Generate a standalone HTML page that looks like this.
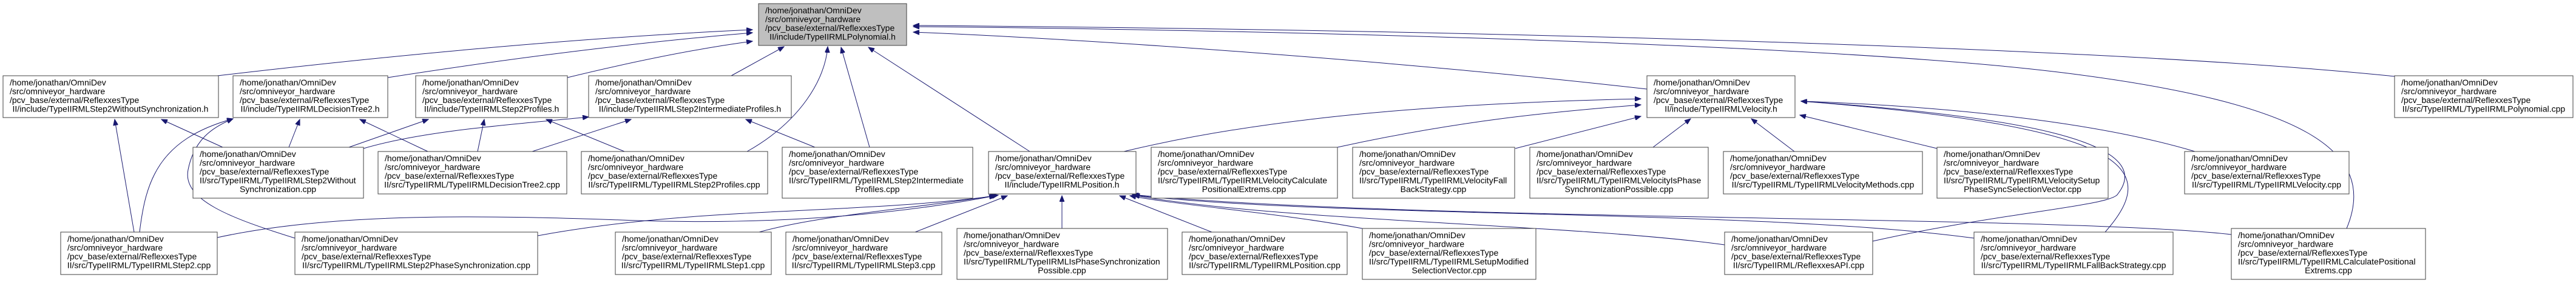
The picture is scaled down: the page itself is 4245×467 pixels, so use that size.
<!DOCTYPE html>
<html><head><meta charset="utf-8"><style>
html,body{margin:0;padding:0;background:#fff;}
svg{display:block;}
text{font-family:"Liberation Sans",sans-serif;font-size:14px;fill:#000;}
.b{fill:#fff;stroke:#404040;stroke-width:1;}
.g{fill:#bfbfbf;stroke:#404040;stroke-width:1;}
.e{fill:none;stroke:#191970;stroke-width:1;marker-end:url(#ah);}
</style></head><body>
<svg width="4245" height="467" viewBox="0 0 4245 467" xmlns="http://www.w3.org/2000/svg">
<defs><marker id="ah" markerUnits="userSpaceOnUse" markerWidth="11" markerHeight="8" refX="10" refY="4" orient="auto"><path d="M0,0 L10,4 L0,8 z" fill="#191970" stroke="#191970"/></marker></defs>

<!-- edges -->
<path class="e" d="M358,125 C700,85 1000,60 1240,49"/>
<path class="e" d="M639,128 C850,95 1050,70 1240,54"/>
<path class="e" d="M935,128 C1050,100 1150,80 1240,68"/>
<path class="e" d="M1205,125 L1292,77"/>
<path class="e" d="M1231,250 C1320,200 1360,130 1364,77"/>
<path class="e" d="M1433,243 L1386,78"/>
<path class="e" d="M1697,250 L1431,78"/>
<path class="e" d="M2714,147 C2300,100 1800,65 1505,53"/>
<path class="e" d="M3946,126 C3500,80 2500,50 1505,42"/>
<path class="e" d="M3867,377 C3920,250 3800,170 3400,120 S2000,48 1505,44"/>
<path class="e" d="M1852,250 C2100,190 2400,170 2704,163"/>
<path class="e" d="M2204,243 C2400,200 2550,185 2704,173"/>
<path class="e" d="M2497,245 L2704,192"/>
<path class="e" d="M2724,243 L2786,196"/>
<path class="e" d="M2957,250 L2886,196"/>
<path class="e" d="M3192,245 L2966,190"/>
<path class="e" d="M3617,250 C3450,200 3200,175 2968,167"/>
<path class="e" d="M3086,398 C3300,350 3480,340 3490,320 C3560,230 3300,190 2968,167"/>
<path class="e" d="M3469,383 C3560,280 3520,210 2968,167"/>
<path class="e" d="M221,383 L189,197"/>
<path class="e" d="M367,243 L266,197"/>
<path class="e" d="M230,383 C240,300 260,230 384,196"/>
<path class="e" d="M486,393 C380,360 300,330 310,280 C320,230 350,210 384,196"/>
<path class="e" d="M476,243 L494,197"/>
<path class="e" d="M705,250 L593,197"/>
<path class="e" d="M575,243 L706,197"/>
<path class="e" d="M787,250 L798,197"/>
<path class="e" d="M1029,250 L900,197"/>
<path class="e" d="M599,245 C700,215 850,205 970,193"/>
<path class="e" d="M877,250 L1040,197"/>
<path class="e" d="M1343,243 L1229,197"/>
<path class="e" d="M358,392 C550,350 800,355 1050,364 C1300,372 1500,350 1640,323"/>
<path class="e" d="M886,389 C1150,340 1400,355 1642,323"/>
<path class="e" d="M1251,383 C1350,355 1500,345 1645,322"/>
<path class="e" d="M1508,383 L1660,323"/>
<path class="e" d="M1750,377 L1750,323"/>
<path class="e" d="M1997,383 L1845,323"/>
<path class="e" d="M2245,377 C2100,350 1950,340 1862,323"/>
<path class="e" d="M2842,404 C2600,370 2100,365 1868,322"/>
<path class="e" d="M3253,393 C2900,345 2200,360 1868,322"/>
<path class="e" d="M3677,387 C3400,355 2300,365 1866,321"/>

<!-- nodes -->
<rect class="g" x="1250" y="6" width="244" height="69"/>
<text x="1261" y="22">/home/jonathan/OmniDev</text><text x="1261" y="36.5">/src/omniveyor_hardware</text><text x="1261" y="51">/pcv_base/external/ReflexxesType</text><text x="1372" y="65.5" text-anchor="middle">II/include/TypeIIRMLPolynomial.h</text>

<rect class="b" x="5" y="125" width="355" height="69"/>
<text x="16" y="141">/home/jonathan/OmniDev</text><text x="16" y="155.5">/src/omniveyor_hardware</text><text x="16" y="170">/pcv_base/external/ReflexxesType</text><text x="182" y="184.5" text-anchor="middle">II/include/TypeIIRMLStep2WithoutSynchronization.h</text>

<rect class="b" x="384" y="125" width="255" height="69"/>
<text x="395" y="141">/home/jonathan/OmniDev</text><text x="395" y="155.5">/src/omniveyor_hardware</text><text x="395" y="170">/pcv_base/external/ReflexxesType</text><text x="511" y="184.5" text-anchor="middle">II/include/TypeIIRMLDecisionTree2.h</text>

<rect class="b" x="685" y="125" width="250" height="69"/>
<text x="696" y="141">/home/jonathan/OmniDev</text><text x="696" y="155.5">/src/omniveyor_hardware</text><text x="696" y="170">/pcv_base/external/ReflexxesType</text><text x="810" y="184.5" text-anchor="middle">II/include/TypeIIRMLStep2Profiles.h</text>

<rect class="b" x="970" y="125" width="334" height="69"/>
<text x="981" y="141">/home/jonathan/OmniDev</text><text x="981" y="155.5">/src/omniveyor_hardware</text><text x="981" y="170">/pcv_base/external/ReflexxesType</text><text x="1137" y="184.5" text-anchor="middle">II/include/TypeIIRMLStep2IntermediateProfiles.h</text>

<rect class="b" x="2714" y="125" width="244" height="69"/>
<text x="2725" y="141">/home/jonathan/OmniDev</text><text x="2725" y="155.5">/src/omniveyor_hardware</text><text x="2725" y="170">/pcv_base/external/ReflexxesType</text><text x="2836" y="184.5" text-anchor="middle">II/include/TypeIIRMLVelocity.h</text>

<rect class="b" x="3946" y="125" width="294" height="69"/>
<text x="3957" y="141">/home/jonathan/OmniDev</text><text x="3957" y="155.5">/src/omniveyor_hardware</text><text x="3957" y="170">/pcv_base/external/ReflexxesType</text><text x="4093" y="184.5" text-anchor="middle">II/src/TypeIIRML/TypeIIRMLPolynomial.cpp</text>

<!-- row 2 -->
<rect class="b" x="318" y="243" width="281" height="84"/>
<text x="329" y="259">/home/jonathan/OmniDev</text><text x="329" y="273.5">/src/omniveyor_hardware</text><text x="329" y="288">/pcv_base/external/ReflexxesType</text><text x="329" y="302.5">II/src/TypeIIRML/TypeIIRMLStep2Without</text><text x="458" y="317" text-anchor="middle">Synchronization.cpp</text>

<rect class="b" x="623" y="250" width="311" height="70"/>
<text x="634" y="266">/home/jonathan/OmniDev</text><text x="634" y="280.5">/src/omniveyor_hardware</text><text x="634" y="295">/pcv_base/external/ReflexxesType</text><text x="778" y="309.5" text-anchor="middle">II/src/TypeIIRML/TypeIIRMLDecisionTree2.cpp</text>

<rect class="b" x="958" y="250" width="307" height="70"/>
<text x="969" y="266">/home/jonathan/OmniDev</text><text x="969" y="280.5">/src/omniveyor_hardware</text><text x="969" y="295">/pcv_base/external/ReflexxesType</text><text x="1111" y="309.5" text-anchor="middle">II/src/TypeIIRML/TypeIIRMLStep2Profiles.cpp</text>

<rect class="b" x="1289" y="243" width="314" height="84"/>
<text x="1300" y="259">/home/jonathan/OmniDev</text><text x="1300" y="273.5">/src/omniveyor_hardware</text><text x="1300" y="288">/pcv_base/external/ReflexxesType</text><text x="1300" y="302.5">II/src/TypeIIRML/TypeIIRMLStep2Intermediate</text><text x="1446" y="317" text-anchor="middle">Profiles.cpp</text>

<rect class="b" x="1629" y="250" width="243" height="70"/>
<text x="1640" y="266">/home/jonathan/OmniDev</text><text x="1640" y="280.5">/src/omniveyor_hardware</text><text x="1640" y="295">/pcv_base/external/ReflexxesType</text><text x="1750" y="309.5" text-anchor="middle">II/include/TypeIIRMLPosition.h</text>

<rect class="b" x="1897" y="243" width="307" height="84"/>
<text x="1908" y="259">/home/jonathan/OmniDev</text><text x="1908" y="273.5">/src/omniveyor_hardware</text><text x="1908" y="288">/pcv_base/external/ReflexxesType</text><text x="1908" y="302.5">II/src/TypeIIRML/TypeIIRMLVelocityCalculate</text><text x="2050" y="317" text-anchor="middle">PositionalExtrems.cpp</text>

<rect class="b" x="2229" y="243" width="267" height="84"/>
<text x="2240" y="259">/home/jonathan/OmniDev</text><text x="2240" y="273.5">/src/omniveyor_hardware</text><text x="2240" y="288">/pcv_base/external/ReflexxesType</text><text x="2240" y="302.5">II/src/TypeIIRML/TypeIIRMLVelocityFall</text><text x="2362" y="317" text-anchor="middle">BackStrategy.cpp</text>

<rect class="b" x="2521" y="243" width="294" height="84"/>
<text x="2532" y="259">/home/jonathan/OmniDev</text><text x="2532" y="273.5">/src/omniveyor_hardware</text><text x="2532" y="288">/pcv_base/external/ReflexxesType</text><text x="2532" y="302.5">II/src/TypeIIRML/TypeIIRMLVelocityIsPhase</text><text x="2668" y="317" text-anchor="middle">SynchronizationPossible.cpp</text>

<rect class="b" x="2840" y="250" width="328" height="70"/>
<text x="2851" y="266">/home/jonathan/OmniDev</text><text x="2851" y="280.5">/src/omniveyor_hardware</text><text x="2851" y="295">/pcv_base/external/ReflexxesType</text><text x="3004" y="309.5" text-anchor="middle">II/src/TypeIIRML/TypeIIRMLVelocityMethods.cpp</text>

<rect class="b" x="3192" y="243" width="282" height="84"/>
<text x="3203" y="259">/home/jonathan/OmniDev</text><text x="3203" y="273.5">/src/omniveyor_hardware</text><text x="3203" y="288">/pcv_base/external/ReflexxesType</text><text x="3203" y="302.5">II/src/TypeIIRML/TypeIIRMLVelocitySetup</text><text x="3333" y="317" text-anchor="middle">PhaseSyncSelectionVector.cpp</text>

<rect class="b" x="3600" y="250" width="271" height="70"/>
<text x="3611" y="266">/home/jonathan/OmniDev</text><text x="3611" y="280.5">/src/omniveyor_hardware</text><text x="3611" y="295">/pcv_base/external/ReflexxesType</text><text x="3735" y="309.5" text-anchor="middle">II/src/TypeIIRML/TypeIIRMLVelocity.cpp</text>

<!-- row 3 -->
<rect class="b" x="100" y="383" width="258" height="70"/>
<text x="111" y="399">/home/jonathan/OmniDev</text><text x="111" y="413.5">/src/omniveyor_hardware</text><text x="111" y="428">/pcv_base/external/ReflexxesType</text><text x="229" y="442.5" text-anchor="middle">II/src/TypeIIRML/TypeIIRMLStep2.cpp</text>

<rect class="b" x="486" y="383" width="400" height="70"/>
<text x="497" y="399">/home/jonathan/OmniDev</text><text x="497" y="413.5">/src/omniveyor_hardware</text><text x="497" y="428">/pcv_base/external/ReflexxesType</text><text x="686" y="442.5" text-anchor="middle">II/src/TypeIIRML/TypeIIRMLStep2PhaseSynchronization.cpp</text>

<rect class="b" x="1014" y="383" width="257" height="70"/>
<text x="1025" y="399">/home/jonathan/OmniDev</text><text x="1025" y="413.5">/src/omniveyor_hardware</text><text x="1025" y="428">/pcv_base/external/ReflexxesType</text><text x="1142" y="442.5" text-anchor="middle">II/src/TypeIIRML/TypeIIRMLStep1.cpp</text>

<rect class="b" x="1295" y="383" width="257" height="70"/>
<text x="1306" y="399">/home/jonathan/OmniDev</text><text x="1306" y="413.5">/src/omniveyor_hardware</text><text x="1306" y="428">/pcv_base/external/ReflexxesType</text><text x="1423" y="442.5" text-anchor="middle">II/src/TypeIIRML/TypeIIRMLStep3.cpp</text>

<rect class="b" x="1577" y="377" width="347" height="84"/>
<text x="1588" y="393">/home/jonathan/OmniDev</text><text x="1588" y="407.5">/src/omniveyor_hardware</text><text x="1588" y="422">/pcv_base/external/ReflexxesType</text><text x="1588" y="436.5">II/src/TypeIIRML/TypeIIRMLIsPhaseSynchronization</text><text x="1750" y="451" text-anchor="middle">Possible.cpp</text>

<rect class="b" x="1948" y="383" width="272" height="70"/>
<text x="1959" y="399">/home/jonathan/OmniDev</text><text x="1959" y="413.5">/src/omniveyor_hardware</text><text x="1959" y="428">/pcv_base/external/ReflexxesType</text><text x="2084" y="442.5" text-anchor="middle">II/src/TypeIIRML/TypeIIRMLPosition.cpp</text>

<rect class="b" x="2245" y="377" width="286" height="84"/>
<text x="2256" y="393">/home/jonathan/OmniDev</text><text x="2256" y="407.5">/src/omniveyor_hardware</text><text x="2256" y="422">/pcv_base/external/ReflexxesType</text><text x="2256" y="436.5">II/src/TypeIIRML/TypeIIRMLSetupModified</text><text x="2388" y="451" text-anchor="middle">SelectionVector.cpp</text>

<rect class="b" x="2842" y="383" width="244" height="70"/>
<text x="2853" y="399">/home/jonathan/OmniDev</text><text x="2853" y="413.5">/src/omniveyor_hardware</text><text x="2853" y="428">/pcv_base/external/ReflexxesType</text><text x="2964" y="442.5" text-anchor="middle">II/src/TypeIIRML/ReflexxesAPI.cpp</text>

<rect class="b" x="3253" y="383" width="328" height="70"/>
<text x="3264" y="399">/home/jonathan/OmniDev</text><text x="3264" y="413.5">/src/omniveyor_hardware</text><text x="3264" y="428">/pcv_base/external/ReflexxesType</text><text x="3417" y="442.5" text-anchor="middle">II/src/TypeIIRML/TypeIIRMLFallBackStrategy.cpp</text>

<rect class="b" x="3677" y="377" width="320" height="84"/>
<text x="3688" y="393">/home/jonathan/OmniDev</text><text x="3688" y="407.5">/src/omniveyor_hardware</text><text x="3688" y="422">/pcv_base/external/ReflexxesType</text><text x="3688" y="436.5">II/src/TypeIIRML/TypeIIRMLCalculatePositional</text><text x="3837" y="451" text-anchor="middle">Extrems.cpp</text>
</svg>
</body></html>
